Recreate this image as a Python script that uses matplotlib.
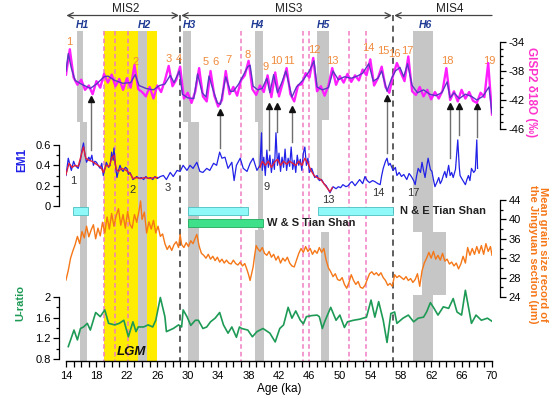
import numpy as np
import matplotlib.pyplot as plt
from matplotlib.patches import Rectangle

plt.rcParams['font.family'] = ['Liberation Sans', 'DejaVu Sans']
plt.rcParams['axes.unicode_minus'] = False

W, H = 554, 399          # output size in pixels
X0, X1 = 66, 492         # pixel columns of age 14 and 70
ROW_BOT = 361            # pixel row of the age axis

# ---------------- data (age in ka) ----------------
gisp_age = np.arange(14.0, 70.5, 0.5)
gisp_raw = [-38.5, -35.0, -38.9, -39.9, -39.2, -40.6, -40.0, -41.2, -39.4, -40.3,
            -38.4, -39.6, -38.5, -40.1, -39.1, -40.6, -39.0, -40.3, -37.2, -40.5,
            -40.9, -41.5, -40.2, -41.8, -40.0, -40.9, -39.3, -37.3, -40.1, -39.2,
            -37.4, -41.8, -41.0, -42.4, -40.8, -37.6, -41.5, -42.2, -38.0, -41.4,
            -42.9, -42.0, -38.0, -41.2, -40.2, -41.4, -39.3, -38.6, -36.6, -40.5,
            -41.3, -40.0, -40.9, -38.6, -41.6, -38.2, -41.5, -39.6, -37.6, -41.2,
            -42.2, -40.0, -39.8, -38.3, -38.9, -36.2, -40.8, -40.1, -41.4, -40.0,
            -37.6, -39.9, -38.7, -39.6, -38.4, -39.5, -38.6, -39.3, -37.8, -38.6,
            -36.4, -40.0, -39.0, -37.4, -40.2, -41.0, -38.6, -36.9, -38.2, -39.4,
            -36.0, -40.8, -41.3, -40.2, -41.5, -40.6, -41.9, -40.9, -41.8, -40.7,
            -37.6, -42.0, -40.8, -42.2, -40.6, -41.8, -40.9, -42.1, -42.4, -41.0,
            -41.6, -36.9, -44.0]

gisp_smooth_age = [14.0, 14.3, 14.7, 15.2, 16.0, 17.2, 18.0, 19.0, 19.5, 20.4, 21.5,
                   22.5, 23.1, 23.6, 24.5, 25.5, 26.3, 27.0, 27.7, 28.2, 28.9, 29.3,
                   30.0, 30.8, 31.3, 31.9, 32.4, 32.8, 33.3, 33.9, 34.3, 35.0, 35.6,
                   36.0, 36.7, 37.3, 37.9, 38.2, 38.6, 39.2, 39.8, 40.4, 40.8, 41.3,
                   41.8, 42.4, 42.9, 43.7, 44.3, 45.2, 46.0, 46.6, 47.0, 47.7, 48.5,
                   49.1, 49.8, 50.6, 51.5, 52.3, 53.0, 53.8, 54.4, 55.0, 55.5, 56.2,
                   56.8, 57.3, 57.9, 58.4, 58.9, 59.5, 60.2, 61.0, 61.8, 62.6, 63.4,
                   64.1, 64.5, 65.0, 65.7, 66.5, 67.3, 68.0, 68.8, 69.6, 70.0]
gisp_smooth = [-38.0, -35.6, -37.6, -39.3, -39.8, -40.4, -39.8, -38.8, -38.7, -39.3, -39.7,
               -39.6, -38.5, -40.0, -40.4, -40.6, -40.0, -39.8, -38.6, -39.6, -38.0, -41.2,
               -41.7, -41.8, -38.4, -41.0, -41.6, -38.7, -40.5, -42.4, -42.6, -38.8, -40.8,
               -40.8, -39.8, -38.6, -37.4, -37.2, -40.1, -40.6, -40.4, -39.0, -41.0, -38.5,
               -41.0, -39.5, -38.0, -41.6, -40.2, -39.2, -38.0, -36.6, -40.2, -40.6, -40.3,
               -38.0, -39.2, -38.8, -39.0, -38.7, -38.3, -37.0, -39.4, -39.0, -38.0, -40.8,
               -39.0, -38.0, -37.5, -38.8, -37.0, -40.0, -41.0, -40.6, -41.2, -41.4, -41.0,
               -39.5, -41.7, -41.0, -41.8, -41.2, -41.5, -42.0, -41.5, -40.2, -43.8]

em1_age = [14.0, 14.3, 14.7, 15.0, 15.2, 15.6, 15.9, 16.1, 16.3, 16.5, 16.7, 17.0, 17.2,
           17.4, 17.6, 17.8, 18.0, 18.3, 18.5, 18.7, 18.9, 19.1, 19.3, 19.6, 19.8, 20.0,
           20.2, 20.3, 20.5, 20.7, 20.9, 21.1, 21.3, 21.5, 21.8, 22.0, 22.2, 22.4, 22.6,
           22.8, 23.0, 23.3, 23.6, 23.9, 24.2, 24.5, 24.8, 25.1, 25.4, 25.7, 26.0, 26.4,
           26.8, 27.2, 27.7, 28.1, 28.6, 29.0, 29.4, 29.9, 30.3, 30.7, 31.2, 31.6, 32.0,
           32.5, 32.9, 33.4, 33.8, 34.2, 34.5, 34.9, 35.3, 35.8, 36.1, 36.4, 36.9, 37.3,
           37.8, 38.2, 38.6, 39.1, 39.5, 39.7, 39.8, 40.0, 40.2, 40.4, 40.6, 40.8, 41.0,
           41.2, 41.4, 41.6, 41.8, 42.0, 42.2, 42.4, 42.6, 42.8, 43.0, 43.2, 43.4, 43.6,
           43.8, 44.0, 44.2, 44.4, 44.6, 44.8, 45.0, 45.2, 45.4, 45.6, 45.8, 46.0, 46.3,
           46.7, 47.0, 47.3, 47.6, 47.9, 48.2, 48.5, 48.7, 49.1, 49.5, 49.8, 50.1, 50.4,
           50.8, 51.1, 51.4, 51.6, 52.0, 52.3, 52.6, 53.0, 53.3, 53.6, 53.9, 54.3, 54.6,
           55.0, 55.3, 55.5, 55.7, 56.0, 56.2, 56.4, 56.6, 57.0, 57.3, 57.5, 57.8, 58.1,
           58.4, 58.8, 59.1, 59.4, 59.7, 59.9, 60.1, 60.3, 60.6, 60.8, 61.0, 61.2, 61.4,
           61.6, 61.9, 62.1, 62.3, 62.5, 62.8, 63.0, 63.2, 63.4, 63.6, 63.8, 64.0, 64.3,
           64.5, 64.7, 64.9, 65.2, 65.5, 65.7, 65.8, 66.1, 66.5, 66.7, 66.9, 67.1, 67.3,
           67.6, 67.8, 68.0, 68.1]
em1 = [0.30, 0.47, 0.35, 0.44, 0.40, 0.37, 0.45, 0.55, 0.62, 0.50, 0.43, 0.48, 0.45,
       0.50, 0.40, 0.44, 0.43, 0.39, 0.37, 0.42, 0.30, 0.36, 0.43, 0.38, 0.40, 0.53,
       0.45, 0.57, 0.40, 0.28, 0.35, 0.40, 0.36, 0.34, 0.38, 0.37, 0.31, 0.33, 0.30,
       0.26, 0.27, 0.29, 0.27, 0.28, 0.26, 0.29, 0.27, 0.28, 0.26, 0.29, 0.27, 0.29,
       0.30, 0.26, 0.33, 0.29, 0.35, 0.34, 0.40, 0.35, 0.40, 0.37, 0.43, 0.34, 0.33,
       0.37, 0.35, 0.42, 0.40, 0.53, 0.47, 0.48, 0.37, 0.43, 0.25, 0.40, 0.47, 0.37,
       0.34, 0.42, 0.47, 0.35, 0.40, 0.72, 0.35, 0.48, 0.30, 0.55, 0.38, 0.50, 0.33,
       0.46, 0.36, 0.72, 0.40, 0.52, 0.34, 0.48, 0.38, 0.56, 0.35, 0.47, 0.39, 0.58,
       0.36, 0.45, 0.33, 0.50, 0.40, 0.46, 0.35, 0.52, 0.58, 0.40, 0.47, 0.33, 0.37,
       0.28, 0.30, 0.25, 0.26, 0.22, 0.20, 0.16, 0.13, 0.19, 0.17, 0.19, 0.18, 0.21,
       0.19, 0.20, 0.23, 0.24, 0.20, 0.23, 0.26, 0.22, 0.29, 0.25, 0.23, 0.25, 0.24,
       0.22, 0.21, 0.30, 0.37, 0.44, 0.47, 0.40, 0.42, 0.35, 0.38, 0.30, 0.33, 0.29,
       0.31, 0.26, 0.32, 0.29, 0.25, 0.21, 0.30, 0.37, 0.33, 0.43, 0.35, 0.28, 0.38,
       0.47, 0.36, 0.34, 0.26, 0.19, 0.24, 0.28, 0.22, 0.25, 0.30, 0.34, 0.28, 0.40,
       0.30, 0.33, 0.28, 0.36, 0.65, 0.38, 0.30, 0.26, 0.21, 0.26, 0.30, 0.25, 0.37,
       0.33, 0.35, 0.65, 0.37]

em1_red_age_a = [14.0, 14.4, 14.8, 15.2, 15.6, 16.0, 16.3, 16.6, 17.0, 17.4, 17.8, 18.2,
                 18.6, 18.9, 19.3, 19.7, 20.0, 20.3, 20.6, 20.9, 21.3, 21.7, 22.1, 22.5,
                 22.8, 23.2, 23.8, 24.4, 25.0, 25.6, 26.0]
em1_red_a = [0.31, 0.42, 0.38, 0.40, 0.39, 0.50, 0.58, 0.47, 0.45, 0.44, 0.42, 0.40,
             0.38, 0.33, 0.40, 0.39, 0.47, 0.50, 0.36, 0.34, 0.37, 0.36, 0.34, 0.31,
             0.27, 0.28, 0.27, 0.28, 0.27, 0.28, 0.28]
em1_red_age_b = [39.5, 39.8, 40.2, 40.6, 41.0, 41.4, 41.8, 42.2, 42.6, 43.0, 43.4, 43.8,
                 44.2, 44.6, 45.0, 45.4, 45.8, 46.2, 46.6, 47.0, 47.5, 48.0, 48.4, 48.7, 49.0]
em1_red_b = [0.38, 0.44, 0.40, 0.44, 0.38, 0.43, 0.46, 0.40, 0.44, 0.41, 0.44, 0.42,
             0.40, 0.44, 0.40, 0.47, 0.42, 0.35, 0.30, 0.28, 0.26, 0.21, 0.17, 0.14, 0.18]

grain_age = [14.0, 14.3, 14.6, 14.9, 15.2, 15.5, 15.8, 16.1, 16.4, 16.7, 17.0, 17.3, 17.6,
             17.9, 18.2, 18.5, 18.8, 19.1, 19.4, 19.7, 20.0, 20.3, 20.6, 20.9, 21.2, 21.5,
             21.8, 22.1, 22.4, 22.7, 23.0, 23.3, 23.6, 23.8, 24.0, 24.3, 24.6, 24.9, 25.2,
             25.5, 25.8, 26.1, 26.4, 26.7, 27.0, 27.3, 27.6, 27.9, 28.2, 28.5, 28.8, 29.0,
             29.2, 29.5, 29.8, 30.1, 30.4, 30.7, 31.0, 31.2, 31.5, 31.8, 32.1, 32.4, 32.7,
             33.0, 33.3, 33.6, 33.9, 34.2, 34.5, 34.8, 35.1, 35.4, 35.7, 36.0, 36.3, 36.6,
             36.9, 37.2, 37.5, 37.8, 38.0, 38.2, 38.4, 38.6, 38.8, 39.0, 39.2, 39.5, 39.8,
             40.1, 40.4, 40.7, 41.0, 41.3, 41.6, 41.9, 42.2, 42.5, 42.8, 43.1, 43.4, 43.7,
             44.0, 44.3, 44.6, 44.9, 45.2, 45.5, 45.8, 46.1, 46.4, 46.7, 47.0, 47.3, 47.6,
             47.9, 48.2, 48.5, 48.8, 49.1, 49.4, 49.7, 50.0, 50.3, 50.6, 50.9, 51.2, 51.5,
             51.8, 52.1, 52.4, 52.7, 53.0, 53.3, 53.6, 53.9, 54.2, 54.5, 54.8, 55.1, 55.4,
             55.7, 56.0, 56.3, 56.6, 56.9, 57.2, 57.5, 57.8, 58.1, 58.4, 58.7, 59.0, 59.3,
             59.6, 59.9, 60.2, 60.5, 60.8, 61.1, 61.4, 61.7, 62.0, 62.3, 62.6, 62.9, 63.2,
             63.5, 63.8, 64.1, 64.4, 64.7, 65.0, 65.3, 65.6, 65.9, 66.2, 66.5, 66.8, 67.1,
             67.4, 67.7, 68.0, 68.3, 68.6, 68.9, 69.2, 69.5, 69.8, 70.0]
grain = [27.5, 29.5, 32.0, 33.5, 34.8, 36.5, 35.0, 37.5, 36.2, 38.6, 36.4, 37.8, 38.9,
         36.0, 38.2, 36.6, 39.4, 37.2, 40.5, 38.0, 41.2, 38.6, 40.8, 42.2, 38.8, 41.0,
         38.2, 41.6, 39.0, 38.2, 41.0, 39.4, 41.8, 43.8, 40.0, 41.5, 37.2, 39.5, 38.0,
         39.8, 37.2, 38.6, 36.5, 37.0, 35.0, 33.8, 34.6, 33.6, 34.8, 35.4, 34.2, 36.9,
         34.8, 34.2, 35.2, 34.4, 35.6, 35.0, 36.2, 36.9, 34.5, 33.0, 32.6, 32.0, 32.8,
         31.8, 32.4, 31.5, 32.2, 31.2, 31.8, 31.0, 31.6, 31.0, 30.8, 31.6, 30.9, 30.6,
         31.2, 30.4, 30.9, 29.6, 28.6, 27.4, 28.8, 30.2, 32.6, 34.6, 34.0, 33.4, 34.2,
         33.0, 32.6, 33.4, 32.2, 32.8, 31.6, 32.4, 31.0, 32.0, 31.4, 32.2, 31.0, 30.4,
         30.2, 31.6, 33.0, 34.0, 33.2, 34.4, 33.4, 34.0, 32.8, 33.6, 33.0, 34.2, 33.2,
         34.0, 31.6, 30.0, 29.2, 28.2, 28.8, 27.6, 27.4, 28.0, 26.6, 25.8, 27.0, 28.6,
         27.4, 26.6, 27.2, 26.0, 25.8, 26.4, 27.6, 28.8, 29.2, 28.6, 29.0, 28.4, 29.0,
         28.0, 27.4, 26.4, 26.8, 26.2, 28.6, 28.0, 28.4, 28.0, 27.6, 28.2, 27.4, 27.8,
         27.0, 27.6, 28.8, 26.2, 29.4, 31.0, 32.0, 33.2, 32.0, 33.4, 31.8, 32.6, 31.6,
         33.0, 31.4, 31.8, 30.8, 31.2, 30.4, 31.0, 29.8, 30.8, 32.4, 31.0, 34.2, 32.6,
         34.0, 32.8, 34.4, 33.0, 34.6, 32.8, 35.0, 33.4, 34.4, 32.6]

uratio_age = [14.3, 15.05, 15.5, 15.9, 16.3, 16.8, 17.2, 17.9, 18.5, 19.1, 19.6, 20.4, 21.0,
              21.6, 22.2, 22.8, 23.2, 23.5, 24.2, 24.8, 25.4, 25.8, 26.4, 27.0, 27.2, 28.1,
              28.8, 29.2, 29.4, 29.9, 30.4, 31.0, 31.4, 32.0, 32.5, 33.0, 33.6, 34.2, 34.7,
              35.3, 35.8, 36.4, 36.8, 37.1, 37.9, 38.5, 39.1, 39.9, 40.8, 41.5, 42.1, 42.6,
              43.2, 43.7, 44.2, 44.8, 45.2, 45.6, 46.3, 47.0, 47.3, 47.7, 48.0, 48.8, 49.5,
              50.0, 50.6, 51.0, 51.8, 52.6, 53.5, 54.1, 54.6, 55.1, 55.7, 56.2, 56.7, 57.2,
              57.5, 58.3, 59.0, 59.7, 60.3, 61.0, 61.4, 61.9, 62.3, 62.9, 63.6, 64.3, 64.9,
              65.4, 66.0, 66.5, 67.3, 67.9, 68.6, 69.4, 70.0]
uratio = [1.04, 1.36, 1.17, 1.39, 1.42, 1.49, 1.36, 1.70, 1.62, 1.75, 1.49, 1.46, 1.49,
          1.55, 1.23, 1.52, 1.33, 1.42, 1.42, 1.46, 1.42, 1.55, 1.99, 1.62, 1.33, 1.39,
          1.46, 1.42, 1.75, 1.62, 1.45, 1.55, 1.55, 1.39, 1.42, 1.52, 1.59, 1.70, 1.46,
          1.30, 1.42, 1.22, 1.42, 1.39, 1.36, 1.23, 1.33, 1.39, 1.30, 1.13, 1.39, 1.46,
          1.80, 1.59, 1.73, 1.55, 1.48, 1.62, 1.64, 1.65, 1.62, 1.39, 1.52, 1.80, 1.55,
          1.65, 1.41, 1.52, 1.55, 1.57, 1.61, 1.94, 1.61, 1.91, 1.55, 1.12, 1.68, 1.71,
          1.49, 1.59, 1.65, 1.52, 1.59, 1.61, 1.71, 1.89, 1.80, 1.65, 1.81, 1.78, 1.97,
          1.71, 1.65, 2.13, 1.49, 1.65, 1.55, 1.59, 1.53]

# events and annotations
lgm_span = (19.0, 26.0)
pink_ages = [19.0, 20.4, 22.2, 37.0, 45.2, 45.9, 51.2, 53.4]
mis_bounds = [29.0, 57.0]
h_names = ['H1', 'H2', 'H3', 'H4', 'H5', 'H6']
h_ages = [16.2, 24.3, 30.2, 39.1, 47.8, 61.2]
# grey Heinrich bands: (age from, age to, top row, bottom row) - rows are pixels from the top
gray_bands = [(15.45, 16.2, 31, 122), (15.85, 16.75, 122, ROW_BOT),
              (23.5, 24.6, 31, ROW_BOT),
              (29.4, 30.4, 31, 122), (30.0, 31.5, 122, ROW_BOT),
              (38.8, 39.9, 31, 122), (39.2, 39.9, 122, 230), (38.8, 40.0, 230, ROW_BOT),
              (47.0, 48.6, 31, 120), (47.0, 47.7, 120, 180), (47.5, 48.6, 232, ROW_BOT),
              (59.6, 62.2, 31, 232), (60.8, 64.0, 232, 295), (59.6, 62.2, 295, ROW_BOT)]
do_numbers = [str(i) for i in range(1, 20)]
do_label_ages = [14.4, 23.2, 27.5, 28.8, 32.4, 33.7, 35.3, 37.9, 40.2, 41.6, 43.3,
                 46.6, 49.0, 53.8, 55.7, 57.2, 58.9, 64.1, 69.6]
do_label_rows = [42, 62, 59, 59, 62, 62, 60, 55, 67, 61, 61, 50, 61, 48, 51, 54, 51, 61, 61]
arrow_ages = [17.3, 34.3, 40.7, 41.7, 43.7, 56.2, 64.5, 65.7, 68.0]
arrow_from = [150, 148, 150, 132, 142, 153, 158, 135, 137]
arrow_to = [97, 110, 104, 104, 107, 96, 104, 104, 104]
em1_num = ['1', '2', '3', '9', '13', '14', '17']
em1_num_ages = [15.0, 22.7, 27.4, 40.3, 48.5, 55.0, 59.7]
em1_num_rows = [181, 190, 188, 187, 200, 193, 193]
cyan_boxes = [(14.9, 16.9), (30.0, 37.9), (47.1, 57.0)]
green_box = (30.0, 39.9)

# ---------------- figure ----------------
fig = plt.figure(figsize=(W / 100, H / 100), dpi=100)
rect = [X0 / W, 1 - ROW_BOT / H, (X1 - X0) / W, ROW_BOT / H]

def ftext(px, py, s, **kw):
    fig.text(px / W, 1 - py / H, s, **kw)

# background axes: y measured in pixel rows from the top
bg = fig.add_axes(rect)
bg.set_xlim(14, 70)
bg.set_ylim(ROW_BOT, 0)
for s in ['top', 'left', 'right']:
    bg.spines[s].set_visible(False)
bg.spines['bottom'].set_linewidth(1.0)
bg.set_yticks([])
bg.set_xticks(np.arange(14, 71, 4))
bg.set_xticks(np.arange(14, 71, 1), minor=True)
bg.tick_params(axis='x', which='major', length=4.5, width=0.9, labelsize=8, pad=3)
bg.tick_params(axis='x', which='minor', length=4, width=0.9)
bg.set_xlabel('Age (ka)', fontsize=8.5, labelpad=1)

bg.add_patch(Rectangle((lgm_span[0], 31), lgm_span[1] - lgm_span[0], ROW_BOT - 31,
                       color='#ffec00', lw=0, zorder=0))
for lo, hi, top, bot in gray_bands:
    bg.add_patch(Rectangle((lo, top), hi - lo, bot - top, color='#c6c6c6', lw=0, zorder=1))
for a in pink_ages:
    bg.plot([a, a], [31, ROW_BOT], color='#f07cc4', lw=1.1, ls=(0, (3, 2)), zorder=2)
for a in mis_bounds:
    bg.plot([a, a], [15, ROW_BOT], color='#333333', lw=1.1, ls=(0, (4, 3)), zorder=2)

# MIS arrows
arr = dict(color='#444444', lw=0.9, shrinkA=0, shrinkB=0)
bg.annotate('', xy=(14.05, 15.5), xytext=(28.85, 15.5), arrowprops=dict(arrowstyle='<->', **arr))
bg.annotate('', xy=(29.15, 15.5), xytext=(56.85, 15.5), arrowprops=dict(arrowstyle='<->', **arr))
bg.annotate('', xy=(57.15, 15.5), xytext=(70, 15.5), arrowprops=dict(arrowstyle='->', **arr))
for txt, a in zip(['MIS2', 'MIS3', 'MIS4'], [21.8, 43.3, 64.4]):
    bg.text(a, 9, txt, ha='center', va='center', fontsize=8.5, color='#222222')

for name, a in zip(h_names, h_ages):
    bg.text(a, 25, name, ha='center', va='center', fontsize=7.5, color='#1f3a93',
            fontweight='bold', fontstyle='italic')

# boxes for the source regions
for lo, hi in cyan_boxes:
    bg.add_patch(Rectangle((lo, 207), hi - lo, 8, facecolor='#8ff8f8', edgecolor='#4cc0c0',
                           lw=0.6, zorder=3))
bg.add_patch(Rectangle((green_box[0], 219), green_box[1] - green_box[0], 8,
                       facecolor='#3fe08a', edgecolor='#22a85e', lw=0.6, zorder=3))
bg.text(40.4, 223, 'W & S Tian Shan', fontsize=8, fontweight='bold', va='center', color='#222222')
bg.text(57.9, 211, 'N & E Tian Shan', fontsize=8, fontweight='bold', va='center', color='#222222')
bg.text(22.6, 352, 'LGM', fontsize=9.5, fontweight='bold', fontstyle='italic', ha='center',
        va='center', color='#111111', zorder=5)

# arrows linking EM1 peaks to GISP2 stadials
for a, r0, r1 in zip(arrow_ages, arrow_from, arrow_to):
    bg.plot([a, a], [r0, r1 + 3], color='#6e6e6e', lw=1.0, zorder=4)
    bg.plot(a, r1 + 2, marker='^', ms=4.5, color='#111111', zorder=6)

for s, a, r in zip(do_numbers, do_label_ages, do_label_rows):
    bg.text(a, r, s, ha='center', va='center', fontsize=8, color='#f08a3c', zorder=6)
for s, a, r in zip(em1_num, em1_num_ages, em1_num_rows):
    bg.text(a, r, s, ha='center', va='center', fontsize=8, color='#333333', zorder=6)


def panel(v0, r0, v1, r1, side, bounds, major, minor, labels=None):
    ax = fig.add_axes(rect, label=side + str(v0))
    ax.patch.set_visible(False)
    ax.set_xlim(14, 70)
    slope = (v1 - v0) / (r1 - r0)
    ax.set_ylim(v0 + (ROW_BOT - r0) * slope, v0 - r0 * slope)
    for s in ['top', 'bottom', 'left', 'right']:
        ax.spines[s].set_visible(s == side)
    ax.spines[side].set_position(('outward', 6 if side == 'right' else 5))
    ax.spines[side].set_bounds(*bounds)
    ax.spines[side].set_linewidth(0.9)
    ax.tick_params(axis='x', bottom=False, labelbottom=False)
    ax.yaxis.set_ticks_position(side)
    ax.set_yticks(major)
    ax.set_yticks(minor, minor=True)
    if labels:
        ax.set_yticklabels(labels)
    ax.tick_params(axis='y', which='major', length=4, width=0.9, labelsize=8, pad=2)
    ax.tick_params(axis='y', which='minor', length=2.5, width=0.9)
    return ax


ax_g = panel(-34, 42, -46, 129, 'right', (-46, -34), [-46, -42, -38, -34],
             [-45, -44, -43, -41, -40, -39, -37, -36, -35])
ax_g.plot(gisp_age, gisp_raw, color='#ff1eff', lw=1.7, zorder=3)
ax_g.plot(gisp_smooth_age, gisp_smooth, color='#5a36c4', lw=1.0, zorder=4)

ax_e = panel(0.6, 145, 0.0, 206, 'left', (0, 0.6), [0, 0.2, 0.4, 0.6], [0.1, 0.3, 0.5],
             ['0', '0.2', '0.4', '0.6'])
ax_e.plot(em1_age, em1, color='#2121e8', lw=0.9, zorder=3)
ax_e.plot(em1_red_age_a, em1_red_a, color='#e3203c', lw=1.0, zorder=4)
ax_e.plot(em1_red_age_b, em1_red_b, color='#e3203c', lw=1.0, zorder=4)

ax_s = panel(44, 200, 24, 297, 'right', (24, 44), [24, 28, 32, 36, 40, 44],
             [26, 30, 34, 38, 42])
ax_s.plot(grain_age, grain, color='#f57718', lw=1.0, zorder=3)

ax_u = panel(2.0, 297, 0.8, 359, 'left', (0.8, 2.0), [0.8, 1.2, 1.6, 2.0], [1.0, 1.4, 1.8],
             ['0.8', '1.2', '1.6', '2'])
ax_u.plot(uratio_age, uratio, color='#1d9a55', lw=1.2, zorder=3)

# axis titles
ftext(22, 160, 'EM1', rotation=90, ha='center', va='center', fontsize=8.5,
      fontweight='bold', color='#2121e8')
ftext(20, 303, 'U-ratio', rotation=90, ha='center', va='center', fontsize=8,
      fontweight='bold', color='#1d9a55')
ftext(531, 92, 'GISP2 δ18O (‰)', rotation=270, ha='center', va='center', fontsize=8.5,
      fontweight='bold', color='#ff33cc')
ftext(538, 254, 'Mean grain size record of\nthe Jingyuan section (μm)', rotation=270,
      ha='center', va='center', fontsize=8, fontweight='bold', color='#f57718',
      linespacing=1.0)

fig.savefig('out.png', dpi=100)
